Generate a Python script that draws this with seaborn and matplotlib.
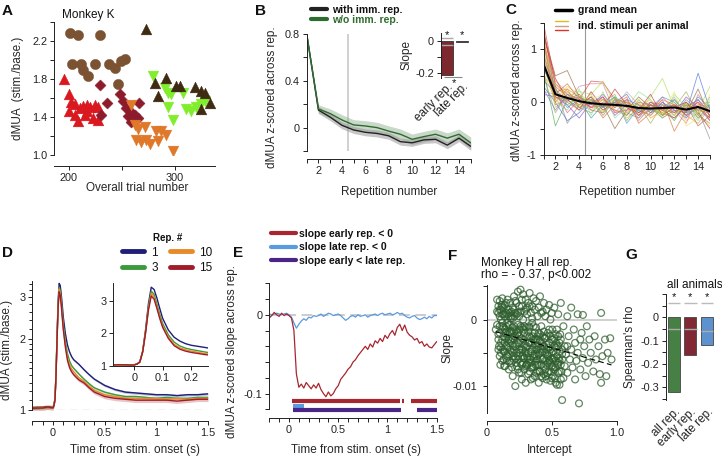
import numpy as np
import pandas as pd
import seaborn as sns
import matplotlib.pyplot as plt
from matplotlib.lines import Line2D
from matplotlib.ticker import NullFormatter

# ---------------- data ----------------
# A: dMUA per trial, one group per stimulus (Monkey K)
a_circ_x = [201.3, 208.5, 229.7, 203.2, 211.7, 213.2, 218.0, 224.9, 237.9, 243.2, 249.5, 252.7, 246.4]
a_circ_y = [2.28, 2.26, 2.26, 1.96, 1.96, 1.90, 1.83, 1.96, 1.96, 1.92, 1.99, 2.01, 1.75]
a_dtri_x = [272.6, 281.1, 292.1, 300.9, 304.7, 318.9, 325.2, 328.4, 333.1, 325.2, 284.2]
a_dtri_y = [2.33, 1.76, 1.81, 1.73, 1.73, 1.72, 1.67, 1.65, 1.55, 1.48, 1.62]
a_green_x = [279.5, 290.5, 293.7, 296.8, 307.9, 293.7, 298.4, 311.0, 315.8, 320.5, 325.2, 328.4]
a_green_y = [1.83, 1.71, 1.65, 1.64, 1.65, 1.51, 1.37, 1.48, 1.46, 1.51, 1.54, 1.57]
a_red_x = [195.9, 200.0, 202.2, 205.4, 210.1, 213.2, 217.0, 219.6, 224.3, 227.4, 200.6, 208.5, 217.0,
           222.7, 227.4, 214.8, 205.4]
a_red_y = [1.80, 1.64, 1.56, 1.54, 1.50, 1.52, 1.53, 1.51, 1.53, 1.51, 1.46, 1.36, 1.46, 1.39, 1.37,
           1.42, 1.42]
a_dia_x = [229.0, 236.0, 230.6, 248.0, 251.1, 254.3, 257.4, 262.1, 265.3, 266.2, 259.0, 255.8]
a_dia_y = [1.74, 1.55, 1.42, 1.64, 1.57, 1.50, 1.46, 1.42, 1.39, 1.55, 1.35, 1.41]
a_orng_x = [259.0, 262.1, 265.3, 271.6, 263.7, 268.5, 273.2, 276.3, 282.6, 287.4, 292.1, 284.2, 298.4]
a_orng_y = [1.53, 1.32, 1.27, 1.30, 1.16, 1.14, 1.16, 1.12, 1.25, 1.25, 1.21, 1.15, 1.04]

# B: mean z-scored dMUA per repetition
rep = [1, 2, 3, 4, 5, 6, 7, 8, 9, 10, 11, 12, 13, 14, 15]
b_with = [0.80, 0.15, 0.09, 0.02, -0.02, -0.04, -0.05, -0.07, -0.12, -0.13, -0.105, -0.10, -0.15, -0.09, -0.16]
b_with_sem = [0.01, 0.03, 0.03, 0.03, 0.03, 0.03, 0.03, 0.03, 0.03, 0.03, 0.03, 0.03, 0.03, 0.03, 0.035]
b_wo = [0.80, 0.16, 0.12, 0.066, 0.023, 0.014, 0.0, -0.03, -0.057, -0.10, -0.077, -0.057, -0.09, -0.057, -0.13]
b_wo_sem = [0.01, 0.035, 0.04, 0.045, 0.045, 0.045, 0.045, 0.045, 0.045, 0.045, 0.045, 0.045, 0.045, 0.045, 0.05]
binset_labels = ["early rep.", "late rep."]
binset_slope = [-0.21, -0.008]

# C: individual stimuli and grand mean
c_mean = [0.72, 0.15, 0.08, 0.02, -0.02, -0.04, -0.05, -0.07, -0.11, -0.12, -0.11, -0.10, -0.14, -0.09, -0.17]
c_lines = [
    [1.50, 0.35, 0.15, 0.05, 0.40, 0.38, 0.05, -0.10, -0.25, -0.05, -0.20, -0.30, -0.10, 0.05, -0.25],
    [1.20, 0.20, 0.25, 0.10, -0.05, 0.10, -0.15, -0.20, 0.00, -0.30, -0.15, -0.05, -0.25, -0.40, -0.10],
    [1.00, 0.05, 0.30, 0.15, 0.00, -0.20, 0.10, -0.30, -0.10, 0.05, -0.25, 0.00, -0.35, -0.20, -0.45],
    [0.90, -0.10, 0.10, 0.20, 0.15, 0.40, -0.05, 0.00, -0.20, 0.10, 0.45, -0.10, -0.05, -0.15, 0.30],
    [0.60, -0.45, 0.05, -0.10, 0.10, -0.15, 0.00, -0.25, 0.05, -0.20, -0.10, -0.35, 0.00, -0.30, -0.05],
    [0.30, 0.00, -0.35, -0.20, 0.05, -0.10, 0.00, 0.15, -0.20, -0.05, -0.10, 0.05, -0.20, 0.55, -0.15],
    [0.15, 0.10, -0.05, -0.30, 0.00, 0.10, -0.25, -0.05, -0.15, -0.25, 0.00, -0.20, 0.10, -0.10, -0.35],
    [1.30, 0.50, 0.60, 0.10, -0.10, -0.05, -0.50, -0.15, 0.10, -0.10, -0.30, -0.15, -0.20, 0.25, -0.30],
    [0.80, 0.30, -0.40, -0.05, 0.10, -0.25, 0.05, -0.20, -0.30, 0.00, -0.05, -0.25, 0.05, -0.15, -0.70],
    [1.10, 0.40, 0.20, 0.00, -0.15, 0.05, -0.10, 0.20, -0.05, -0.15, -0.20, 0.10, -0.30, -0.05, 0.00],
    [0.70, 0.25, 0.00, 0.30, 0.35, 0.35, -0.20, 0.05, -0.35, -0.10, 0.10, -0.15, -0.40, 0.15, -0.20],
    [0.50, -0.20, 0.15, -0.10, -0.20, 0.00, 0.15, -0.35, -0.05, -0.40, -0.05, -0.10, 0.20, -0.25, 0.10],
    [1.40, 0.15, 0.35, 0.05, 0.05, -0.30, -0.05, 0.10, -0.40, -0.20, 0.05, -0.55, -0.15, 0.00, -0.35],
    [0.95, 0.05, -0.15, 0.25, -0.25, 0.20, -0.30, -0.10, 0.20, 0.05, -0.30, 0.15, -0.10, -0.35, 0.05],
    [1.25, 0.45, 0.05, -0.15, 0.20, -0.10, 0.25, -0.05, -0.15, 0.15, -0.25, -0.10, 0.00, -0.20, -0.50],
    [0.40, 0.20, -0.10, 0.05, -0.30, -0.05, 0.10, -0.40, -0.10, -0.15, 0.10, 0.00, -0.25, 0.10, -0.10],
    [0.85, -0.05, 0.20, -0.05, 0.05, 0.15, -0.15, -0.20, 0.05, -0.30, -0.20, 0.20, -0.45, -0.30, 0.15],
    [0.65, 0.10, 0.05, 0.15, -0.15, -0.20, 0.05, 0.00, -0.25, 0.00, -0.15, -0.30, -0.05, -0.45, -0.25],
    [1.35, 0.30, 0.10, -0.05, 0.10, -0.15, 0.00, -0.10, -0.20, -0.05, -0.15, -0.05, -0.25, -0.10, -0.30],
    [0.55, 0.05, 0.20, 0.00, -0.10, 0.05, -0.05, -0.15, -0.10, -0.25, -0.05, -0.20, -0.10, 0.00, -0.15],
    [1.05, 0.25, -0.05, 0.10, 0.00, -0.10, 0.10, -0.05, -0.15, -0.10, -0.25, 0.05, -0.20, -0.15, -0.05],
    [0.25, -0.15, 0.15, 0.00, -0.05, 0.15, -0.10, 0.05, -0.05, -0.20, 0.00, -0.15, -0.30, 0.05, -0.20],
    [0.75, 0.10, 0.00, -0.15, 0.05, -0.05, -0.15, -0.25, 0.00, -0.05, -0.10, -0.20, 0.00, -0.25, -0.40],
    [1.15, -0.05, 0.05, 0.10, -0.10, 0.00, -0.05, 0.05, -0.25, -0.15, 0.05, -0.05, -0.15, -0.05, -0.10],
    [0.45, 0.35, 0.10, -0.05, 0.15, -0.20, 0.05, -0.10, -0.05, -0.10, -0.20, -0.25, -0.05, -0.20, 0.00],
    [0.90, 0.20, -0.20, 0.05, -0.10, 0.10, -0.20, -0.15, -0.10, 0.00, -0.10, -0.05, -0.20, 0.00, -0.25],
    [0.20, 0.15, 0.05, 0.10, -0.05, -0.10, 0.00, -0.05, -0.30, -0.15, -0.05, -0.10, -0.10, -0.30, -0.15],
    [1.20, 0.00, 0.25, -0.10, 0.00, 0.05, -0.10, 0.00, -0.10, -0.05, -0.15, -0.20, -0.05, -0.15, -0.20],
]
c_colors = ['#e03030', '#f08a30', '#e0d030', '#a0e040', '#40a040', '#4060e0', '#8040c0', '#8b5a2b',
            '#808080', '#c8a080', '#e07090', '#a0a040', '#d06020', '#80e080', '#c02020', '#3090c0',
            '#f0e060', '#a06040', '#d04040', '#e0b040', '#60c060', '#7070e0', '#b08060', '#f07050',
            '#c0d040', '#e05080', '#a0a0a0', '#d08030']

# D: dMUA time courses per repetition
d_time = [-0.2, -0.15, -0.1, -0.05, 0.0, 0.01, 0.02, 0.03, 0.04, 0.05, 0.06, 0.07, 0.08, 0.09, 0.1,
          0.12, 0.14, 0.16, 0.18, 0.2, 0.25, 0.3, 0.35, 0.4, 0.5, 0.6, 0.7, 0.8, 0.9, 1.0, 1.1, 1.2,
          1.3, 1.4, 1.5]
d_rep1 = [1.02, 1.02, 1.03, 1.03, 1.03, 1.05, 1.12, 1.45, 2.10, 2.90, 3.42, 3.35, 3.08, 2.76, 2.46,
          2.10, 1.88, 1.76, 1.68, 1.63, 1.56, 1.48, 1.41, 1.35, 1.27, 1.22, 1.19, 1.18, 1.17, 1.16,
          1.16, 1.15, 1.16, 1.16, 1.17]
d_rep3 = [1.02, 1.03, 1.02, 1.03, 1.03, 1.05, 1.12, 1.44, 2.05, 2.80, 3.30, 3.20, 2.90, 2.58, 2.30,
          1.95, 1.73, 1.61, 1.54, 1.50, 1.42, 1.35, 1.29, 1.24, 1.19, 1.16, 1.14, 1.14, 1.13, 1.12,
          1.13, 1.12, 1.12, 1.13, 1.13]
d_rep10 = [1.03, 1.02, 1.03, 1.02, 1.03, 1.05, 1.11, 1.43, 2.02, 2.75, 3.24, 3.12, 2.82, 2.50, 2.22,
           1.88, 1.66, 1.55, 1.49, 1.45, 1.37, 1.32, 1.26, 1.21, 1.16, 1.14, 1.12, 1.12, 1.12, 1.12,
           1.11, 1.12, 1.11, 1.12, 1.12]
d_rep15 = [1.02, 1.02, 1.02, 1.03, 1.02, 1.05, 1.11, 1.42, 2.00, 2.70, 3.15, 3.05, 2.76, 2.45, 2.18,
           1.84, 1.62, 1.51, 1.45, 1.41, 1.34, 1.30, 1.24, 1.19, 1.14, 1.12, 1.11, 1.10, 1.10, 1.10,
           1.10, 1.09, 1.10, 1.11, 1.11]
d_sem = [0.015, 0.015, 0.015, 0.025]
d_labels = ['1', '3', '10', '15']
d_colors = ['#1f1f7a', '#3b9a3b', '#e8892a', '#a01c2a']

# E: slope across repetitions over time
e_time = [-0.2, -0.175, -0.15, -0.125, -0.1, -0.075, -0.05, -0.025, 0.0, 0.025, 0.05, 0.075, 0.1,
          0.125, 0.15, 0.175, 0.2, 0.225, 0.25, 0.275, 0.3, 0.325, 0.35, 0.375, 0.4, 0.425, 0.45,
          0.475, 0.5, 0.525, 0.55, 0.575, 0.6, 0.625, 0.65, 0.675, 0.7, 0.725, 0.75, 0.775, 0.8,
          0.825, 0.85, 0.875, 0.9, 0.925, 0.95, 0.975, 1.0, 1.025, 1.05, 1.075, 1.1, 1.125, 1.15,
          1.175, 1.2, 1.225, 1.25, 1.275, 1.3, 1.325, 1.35, 1.375, 1.4, 1.425, 1.45, 1.475, 1.5]
e_early = [-0.004, -0.001, 0.003, 0.000, -0.002, 0.002, -0.001, 0.001, -0.001,
           -0.004, -0.020, -0.075, -0.092, -0.088, -0.093, -0.086, -0.090, -0.094, -0.089,
           -0.093, -0.087, -0.095, -0.100, -0.104, -0.098, -0.103, -0.100, -0.094, -0.090,
           -0.082, -0.078, -0.074, -0.069, -0.066, -0.060, -0.057, -0.052, -0.048, -0.044,
           -0.040, -0.044, -0.037, -0.041, -0.033, -0.036, -0.030, -0.034, -0.026, -0.030,
           -0.024, -0.020, -0.026, -0.016, -0.012, -0.020, -0.013, -0.022, -0.026, -0.028,
           -0.032, -0.030, -0.036, -0.034, -0.040, -0.037, -0.041, -0.042, -0.038, -0.034]
e_late = [0.001, 0.000, 0.001, 0.002, 0.001, 0.000, 0.001, 0.002, 0.000,
          -0.003, -0.010, -0.017, -0.012, -0.008, -0.005, -0.007, -0.003, -0.004, -0.001,
          -0.002, -0.001, 0.001, -0.002, 0.000, 0.002, 0.001, -0.001, 0.000, 0.001,
          -0.001, -0.004, -0.007, -0.005, -0.002, -0.001, -0.003, 0.000, -0.002, -0.001,
          0.000, -0.003, -0.001, 0.000, 0.001, -0.001, 0.001, 0.002, 0.000, 0.001,
          0.002, 0.000, 0.001, 0.003, 0.001, 0.002, -0.001, -0.003, -0.004, -0.002,
          -0.001, -0.004, -0.006, -0.005, -0.003, -0.005, -0.002, -0.004, -0.001, -0.001]
e_sig_early = [(0.03, 1.13), (1.15, 1.17), (1.24, 1.5)]
e_sig_late = [(0.04, 0.15)]
e_sig_diff = [(0.04, 1.14), (1.3, 1.5)]

# F: slope vs intercept, Monkey H
f_int = [0.07, 0.08, 0.08, 0.08, 0.09, 0.09, 0.09, 0.10, 0.10, 0.10, 0.10,
         0.11, 0.11, 0.12, 0.12, 0.12, 0.13, 0.13, 0.13, 0.14, 0.14, 0.14, 0.15, 0.15, 0.15,
         0.16, 0.16, 0.16, 0.17, 0.17, 0.17, 0.18, 0.18, 0.18, 0.19, 0.19, 0.19, 0.20, 0.20, 0.20, 0.20,
         0.21, 0.21, 0.21, 0.22, 0.22, 0.22, 0.23, 0.23, 0.23, 0.24, 0.24, 0.24, 0.25, 0.25, 0.25,
         0.26, 0.26, 0.26, 0.27, 0.27, 0.27, 0.28, 0.28, 0.28, 0.29, 0.29, 0.29, 0.30, 0.30, 0.30,
         0.31, 0.31, 0.31, 0.32, 0.32, 0.32, 0.33, 0.33, 0.33, 0.34, 0.34, 0.34, 0.35, 0.35, 0.35,
         0.36, 0.36, 0.36, 0.37, 0.37, 0.37, 0.38, 0.38, 0.38, 0.39, 0.39, 0.39, 0.40, 0.40, 0.40,
         0.41, 0.41, 0.42, 0.42, 0.43, 0.43, 0.43, 0.44, 0.44, 0.45, 0.45, 0.45,
         0.46, 0.46, 0.47, 0.47, 0.48, 0.48, 0.48, 0.49, 0.49, 0.50, 0.50, 0.50,
         0.51, 0.51, 0.52, 0.52, 0.53, 0.53, 0.54, 0.54, 0.55, 0.55,
         0.56, 0.56, 0.57, 0.57, 0.58, 0.58, 0.59, 0.59, 0.60, 0.60,
         0.61, 0.62, 0.62, 0.63, 0.64, 0.65, 0.65, 0.66, 0.67, 0.68, 0.68, 0.69, 0.70, 0.70,
         0.71, 0.72, 0.72, 0.73, 0.74, 0.74, 0.75, 0.76, 0.77, 0.78, 0.79, 0.80,
         0.82, 0.83, 0.84, 0.86, 0.87, 0.88, 0.88, 0.89, 0.91, 0.92, 0.93, 0.95, 0.96,
         0.10, 0.11, 0.11, 0.12, 0.12, 0.13, 0.13, 0.14, 0.14, 0.15, 0.15, 0.16, 0.16, 0.17, 0.17,
         0.18, 0.18, 0.19, 0.19, 0.20, 0.20, 0.21, 0.21, 0.22, 0.22, 0.23, 0.23, 0.24, 0.24, 0.25,
         0.25, 0.26, 0.26, 0.27, 0.27, 0.28, 0.28, 0.29, 0.29, 0.30, 0.30, 0.31, 0.31, 0.32, 0.32,
         0.33, 0.33, 0.34, 0.34, 0.35, 0.35, 0.36, 0.36, 0.37, 0.37, 0.38, 0.38, 0.39, 0.39, 0.40,
         0.40, 0.41, 0.41, 0.42, 0.42, 0.43, 0.43, 0.44, 0.44, 0.45, 0.46, 0.46, 0.47, 0.48, 0.48,
         0.49, 0.49, 0.50, 0.51, 0.52, 0.52, 0.53, 0.54, 0.55, 0.55, 0.56, 0.57, 0.58, 0.46, 0.50,
         0.53, 0.56, 0.09, 0.12, 0.15, 0.18, 0.21, 0.24, 0.27, 0.30, 0.33]
f_slope = [-0.0015, 0.0030, 0.0012, -0.0008, -0.0030, 0.0020, -0.0045, 0.0005, -0.0020, 0.0028, -0.0055,
           0.0015, -0.0035, 0.0032, -0.0010, -0.0062, 0.0008, -0.0025, -0.0048, 0.0022, -0.0015, -0.0070,
           0.0010, -0.0040, -0.0028,
           0.0030, -0.0005, -0.0055, 0.0015, -0.0035, -0.0075, 0.0025, -0.0020, -0.0045, 0.0005, -0.0065,
           -0.0030, 0.0018, -0.0012, -0.0085, -0.0050,
           0.0035, -0.0025, -0.0060, 0.0010, -0.0040, -0.0100, 0.0025, -0.0015, -0.0070, 0.0042, -0.0035,
           -0.0055, 0.0005, -0.0080, -0.0025,
           0.0045, -0.0010, -0.0065, 0.0020, -0.0045, -0.0090, 0.0038, -0.0030, -0.0058, 0.0012, -0.0075,
           -0.0020, 0.0030, -0.0050, -0.0095,
           0.0008, -0.0040, -0.0068, 0.0025, -0.0018, -0.0082, 0.0040, -0.0035, -0.0060, 0.0010, -0.0048,
           -0.0090, 0.0020, -0.0025, -0.0072,
           0.0032, -0.0055, -0.0010, -0.0038, -0.0085, 0.0015, 0.0028, -0.0062, -0.0030, 0.0005, -0.0078,
           -0.0045, 0.0018, -0.0020, -0.0095,
           0.0035, -0.0050, -0.0010, -0.0068, 0.0012, -0.0040, -0.0088, 0.0025, -0.0058, -0.0028, -0.0075,
           0.0005,
           0.0015, -0.0045, -0.0080, -0.0020, 0.0022, -0.0062, -0.0035, -0.0092, 0.0000, -0.0050, -0.0070,
           0.0010,
           -0.0030, -0.0085, 0.0018, -0.0058, -0.0042, -0.0072, -0.0015, -0.0098, 0.0008, -0.0065,
           -0.0048, -0.0078, 0.0025, -0.0030, -0.0060, -0.0121, -0.0088, -0.0010, -0.0070, -0.0040,
           -0.0052, 0.0005, -0.0080, -0.0025, -0.0060, 0.0018, -0.0045, -0.0072, -0.0015, -0.0090, -0.0035,
           -0.0062, 0.0008, -0.0050,
           -0.0126, -0.0030, -0.0075, -0.0020, 0.0007, -0.0058, -0.0040, -0.0085, -0.0010, -0.0065,
           -0.0030, -0.0050,
           -0.0078, -0.0025, -0.0060, -0.0040, -0.0082, 0.0010, -0.0095, -0.0055, -0.0030, -0.0085,
           -0.0050, -0.0028, -0.0060,
           -0.0010, -0.0050, 0.0000, -0.0030, 0.0020, -0.0060, -0.0012, -0.0035, 0.0005, -0.0058, 0.0025,
           -0.0022, -0.0042, -0.0008, 0.0005,
           -0.0062, -0.0008, -0.0018, -0.0048, -0.0028, 0.0002, -0.0045, -0.0010, -0.0025, -0.0058,
           -0.0038, 0.0008, -0.0020, -0.0075, -0.0045,
           0.0020, -0.0032, -0.0050, -0.0012, -0.0068, -0.0045, 0.0000, -0.0038, -0.0058, -0.0012,
           -0.0070, -0.0025, -0.0055, -0.0035, -0.0065,
           -0.0012, -0.0078, -0.0028, -0.0065, -0.0045, -0.0005, -0.0030, -0.0072, -0.0052, -0.0020,
           -0.0045, -0.0080, -0.0025, -0.0060, -0.0040,
           -0.0068, -0.0022, -0.0078, -0.0045, 0.0010, -0.0060, -0.0025, -0.0040, -0.0082, -0.0050,
           -0.0068, -0.0025, -0.0055, -0.0078, -0.0015,
           -0.0045, -0.0065, -0.0030, -0.0060, -0.0040, -0.0075, -0.0022, -0.0055, -0.0080, -0.0040,
           -0.0062, -0.0090, -0.0045, -0.0090, -0.0088,
           -0.0095, -0.0098, 0.0010, 0.0008, -0.0010, 0.0010, 0.0015, 0.0010, 0.0030, 0.0015, 0.0020]
f_int_core = [0.09, 0.10, 0.11, 0.12, 0.13, 0.14, 0.15, 0.16, 0.17, 0.18, 0.19, 0.20, 0.21, 0.22, 0.23,
              0.24, 0.25, 0.26, 0.27, 0.28, 0.29, 0.30, 0.31, 0.32, 0.33, 0.34, 0.35, 0.36, 0.37, 0.38,
              0.39, 0.40, 0.41, 0.42, 0.43, 0.44, 0.45, 0.46, 0.47, 0.48, 0.49, 0.50, 0.51, 0.52, 0.53,
              0.54, 0.55, 0.56, 0.57, 0.58,
              0.095, 0.105, 0.115, 0.125, 0.135, 0.145, 0.155, 0.165, 0.175, 0.185, 0.195, 0.205, 0.215,
              0.225, 0.235, 0.245, 0.255, 0.265, 0.275, 0.285, 0.295, 0.305, 0.315, 0.325, 0.335, 0.345,
              0.355, 0.365, 0.375, 0.385, 0.395, 0.405, 0.415, 0.425, 0.435, 0.445, 0.455, 0.465, 0.475,
              0.485, 0.495, 0.505, 0.515, 0.525, 0.535, 0.545, 0.555, 0.565, 0.575, 0.62]
f_slope_core = [-0.0022, 0.0015, -0.0042, -0.0005, 0.0018, -0.0048, -0.0018, 0.0008, -0.0052, -0.0032,
                0.0012, -0.0038, -0.0018, 0.0028, -0.0050, -0.0008, -0.0035, 0.0012, -0.0028, -0.0065,
                -0.0010, -0.0042, 0.0018, -0.0050, -0.0025, -0.0072, 0.0002, -0.0058, -0.0030, -0.0012,
                -0.0068, -0.0052, -0.0032, -0.0085, -0.0048, -0.0018, -0.0062, -0.0038, -0.0065, -0.0050,
                -0.0025, -0.0058, -0.0072, -0.0028, -0.0062, -0.0040, -0.0025, -0.0035, -0.0068, -0.0052,
                -0.0040, -0.0068, 0.0022, -0.0045, -0.0070, -0.0020, -0.0062, -0.0030, -0.0018, 0.0002,
                -0.0072, -0.0055, 0.0005, -0.0065, -0.0022, -0.0060, -0.0015, -0.0080, -0.0055, -0.0015,
                -0.0048, -0.0068, -0.0058, -0.0010, -0.0060, -0.0035, -0.0088, -0.0042, -0.0068, -0.0055,
                -0.0030, -0.0078, -0.0058, -0.0035, -0.0070, -0.0028, -0.0085, -0.0052, -0.0042, -0.0062,
                -0.0078, -0.0015, -0.0048, -0.0088, -0.0035, -0.0068, -0.0058, -0.0022, -0.0078, -0.0040]

# G: Spearman's rho, all animals
g_labels = ["all rep.", "early rep.", "late rep."]
g_rho = [-0.32, -0.16, -0.12]
g_null = [-0.05, -0.05, -0.06]
g_colors = ['#3e8a3a', '#8e1b2b', '#4a90e2']

# ---------------- style ----------------
sns.set_style("ticks")
plt.rcParams['font.family'] = ['Liberation Sans', 'DejaVu Sans']
plt.rcParams.update({
    'axes.linewidth': 0.7, 'axes.edgecolor': '#222222',
    'xtick.labelsize': 7.8, 'ytick.labelsize': 7.8, 'axes.labelsize': 8.5,
    'xtick.major.size': 3, 'ytick.major.size': 3, 'xtick.minor.size': 3, 'ytick.minor.size': 3,
    'xtick.major.width': 0.7, 'ytick.major.width': 0.7, 'xtick.minor.width': 0.7,
    'ytick.minor.width': 0.7, 'xtick.major.pad': 2, 'ytick.major.pad': 2,
    'xtick.color': '#222222', 'ytick.color': '#222222', 'text.color': '#111111',
})

W, H = 722, 457
fig = plt.figure(figsize=(7.22, 4.57), dpi=100)


def add_ax(box):
    l, t, r, b = box
    return fig.add_axes([l / W, 1 - b / H, (r - l) / W, (b - t) / H])


def ftext(x, y, s, **kw):
    fig.text(x / W, 1 - y / H, s, **kw)


def place_labels(ax, box, xl=None, xl_y=None, xl_x=None, yl=None, yl_x=None, yl_y=None, size=8.5):
    l, t, r, b = box
    if xl:
        ax.set_xlabel(xl, fontsize=size)
        xc = xl_x if xl_x is not None else (l + r) / 2
        ax.xaxis.set_label_coords((xc - l) / (r - l), (b - (xl_y - 6)) / (b - t))
    if yl:
        ax.set_ylabel(yl, fontsize=size)
        yc = yl_y if yl_y is not None else (t + b) / 2
        ax.yaxis.set_label_coords((yl_x + 6 - l) / (r - l), (b - yc) / (b - t))


def fig_legend(ax, handles, labels, x, y, **kw):
    return ax.legend(handles, labels, loc='upper left', bbox_to_anchor=(x / W, 1 - y / H),
                     bbox_transform=fig.transFigure, frameon=False, borderpad=0,
                     borderaxespad=0, **kw)


BOX_A = (54, 22, 215, 155)
BOX_B = (306.7, 34, 470.7, 151)
BOX_BI = (441, 33, 470, 78)
BOX_C = (543.5, 23, 710, 155)
BOX_D = (32.3, 281, 208, 410)
BOX_DI = (113.3, 283, 208.3, 365.7)
BOX_E = (269.3, 283.3, 436.7, 409.3)
BOX_F = (486.7, 285, 616.7, 412.7)
BOX_G = (666, 294, 716, 400)

# ---------------- A ----------------
axA = add_ax(BOX_A)
groups = [(a_circ_x, a_circ_y, 'o', '#7b5332', 55), (a_red_x, a_red_y, '^', '#d9181f', 60),
          (a_dia_x, a_dia_y, 'D', '#8c1c2c', 32), (a_orng_x, a_orng_y, 'v', '#e0782a', 60),
          (a_green_x, a_green_y, 'v', '#80ee2a', 60), (a_dtri_x, a_dtri_y, '^', '#3f2a12', 60)]
for gx, gy, mk, col, sz in groups:
    sns.scatterplot(x=gx, y=gy, marker=mk, color=col, s=sz, edgecolor=col, linewidth=0.3, ax=axA)
axA.set_xlim(186, 338)
axA.set_ylim(1.0, 2.4)
axA.set_yticks([1.0, 1.2, 1.4, 1.6, 1.8, 2.0, 2.2, 2.4])
axA.set_yticklabels(['1.0', '', '1.4', '', '1.8', '', '2.2', ''])
axA.set_xticks([200, 250, 300])
axA.set_xticklabels(['200', '', '300'])
sns.despine(ax=axA)
axA.spines['bottom'].set_position(('outward', 8))
place_labels(axA, BOX_A, xl='Overall trial number', xl_y=188, xl_x=137,
             yl='dMUA  (stim./base.)', yl_x=18.5, yl_y=88)
ftext(62, 15, 'Monkey K', fontsize=8.5, va='center', ha='left')

# ---------------- B ----------------
axB = add_ax(BOX_B)
axB.axvline(4.5, color='#c8c8c8', lw=1.2, zorder=0)
axB.fill_between(rep, np.array(b_wo) - b_wo_sem, np.array(b_wo) + b_wo_sem, color='#88aa88',
                 alpha=0.45, lw=0)
axB.fill_between(rep, np.array(b_with) - b_with_sem, np.array(b_with) + b_with_sem, color='#999999',
                 alpha=0.55, lw=0)
sns.lineplot(x=rep, y=b_with, color='#222222', lw=1.0, ax=axB, label='with imm. rep.')
sns.lineplot(x=rep, y=b_wo, color='#2e6b2e', lw=1.0, ax=axB, label='w/o imm. rep.')
axB.set_xlim(1, 15)
axB.set_ylim(-0.2, 0.8)
axB.set_xticks(rep)
axB.set_xticklabels([str(r) if r % 2 == 0 else '' for r in rep])
axB.set_yticks([-0.2, 0, 0.2, 0.4, 0.6, 0.8])
axB.set_yticklabels(['', '0', '', '0.4', '', '0.8'])
sns.despine(ax=axB)
axB.spines['bottom'].set_position(('outward', 6))
place_labels(axB, BOX_B, xl='Repetition number', xl_y=192,
             yl='dMUA z-scored across rep.', yl_x=272, yl_y=97)
hB = [Line2D([], [], color='#222222', lw=3), Line2D([], [], color='#2e6b2e', lw=3)]
legB = fig_legend(axB, hB, ['with imm. rep.', 'w/o imm. rep.'], 311, 5, handlelength=1.5,
                  handletextpad=0.5, labelspacing=0.0, prop=dict(weight='bold', size=7.5))
legB.get_texts()[1].set_color('#2e6b2e')

# B inset
axBi = add_ax(BOX_BI)
axBi.patch.set_alpha(0)
sns.barplot(x=binset_labels, y=binset_slope, hue=binset_labels, palette=['#8b1a22', '#666666'],
            legend=False, width=0.8, edgecolor='#333333', linewidth=0.6, ax=axBi)
axBi.set_xlim(-0.4, 1.5)
axBi.set_ylim(-0.23, 0.048)
axBi.set_yticks([-0.2, -0.1, 0])
axBi.set_yticklabels(['-0.2', '', '0'])
axBi.tick_params(axis='x', length=0)
axBi.set_xticks([0, 1])
axBi.set_xticklabels(binset_labels, rotation=45, ha='right', rotation_mode='anchor', fontsize=8.5)
axBi.hlines([0.02], -0.4, 0.4, color='#aaaaaa', lw=1)
axBi.hlines([-0.025], -0.4, 0.4, color='#aaaaaa', lw=1)
axBi.hlines([-0.222], -0.2, 0.95, color='#888888', lw=0.8, clip_on=False)
for xs, ys in [(0, 0.038), (1, 0.038), (0.45, -0.262)]:
    axBi.text(xs, ys, '*', ha='center', va='center', fontsize=8, clip_on=False)
sns.despine(ax=axBi, bottom=True)
axBi.set_ylabel('Slope', fontsize=8.5)
axBi.yaxis.set_label_coords((406.5 + 6 - 441) / 29, 0.5)

# ---------------- C ----------------
axC = add_ax(BOX_C)
axC.axvline(4.5, color='#999999', lw=0.8, zorder=0)
c_df = pd.DataFrame({'rep': rep * len(c_lines),
                     'z': [v for line in c_lines for v in line],
                     'stim': [i for i in range(len(c_lines)) for _ in rep]})
sns.lineplot(data=c_df, x='rep', y='z', hue='stim', palette=c_colors, legend=False, lw=0.6,
             alpha=0.65, ax=axC)
sns.lineplot(x=rep, y=c_mean, color='k', lw=1.5, ax=axC)
axC.set_xlim(1, 15)
axC.set_ylim(-1, 1.5)
axC.set_xticks(rep)
axC.set_xticklabels([str(r) if r % 2 == 0 else '' for r in rep])
axC.set_yticks([-1, -0.5, 0, 0.5, 1, 1.5])
axC.set_yticklabels(['-1', '', '0', '', '1', ''])
sns.despine(ax=axC)
place_labels(axC, BOX_C, xl='Repetition number', xl_y=192,
             yl='dMUA z-scored across rep.', yl_x=517, yl_y=90)
fig.add_artist(Line2D([555 / W, 572 / W], [1 - 10 / H, 1 - 10 / H], color='k', lw=2.5))
for yy, cc in [(21, '#d4c020'), (25.5, '#c8a080'), (30, '#e03030')]:
    fig.add_artist(Line2D([555 / W, 568 / W], [1 - yy / H, 1 - yy / H], color=cc, lw=1))
ftext(578, 10, 'grand mean', fontsize=7.5, weight='bold', va='center')
ftext(578, 26, 'ind. stimuli per animal', fontsize=7.5, weight='bold', va='center')

# ---------------- D ----------------
axD = add_ax(BOX_D)
axD.axhline(1.0, color='#aaaaaa', lw=0.9, ls=(0, (6, 4)), zorder=0)
d_reps = [d_rep1, d_rep3, d_rep10, d_rep15]
for vals, sem, lab, col in zip(d_reps, d_sem, d_labels, d_colors):
    v = np.array(vals)
    axD.fill_between(d_time, v - sem, v + sem, color=col, alpha=0.25, lw=0)
    sns.lineplot(x=d_time, y=vals, color=col, lw=1.0, ax=axD, label=lab)
axD.set_yscale('log')
axD.set_xlim(-0.2, 1.5)
axD.set_ylim(1.0, 3.5)
axD.set_yticks([1, 2, 3])
axD.set_yticklabels(['1', '2', '3'])
axD.set_yticks([1.1, 1.2, 1.3, 1.4, 1.5, 1.6, 1.7, 1.8, 1.9, 2.2, 2.4, 2.6, 2.8, 3.2, 3.4], minor=True)
axD.yaxis.set_minor_formatter(NullFormatter())
axD.tick_params(axis='y', which='minor', length=2)
d_xt = [-0.2, -0.1, 0, 0.1, 0.2, 0.3, 0.4, 0.5, 0.6, 0.7, 0.8, 0.9, 1.0, 1.1, 1.2, 1.3, 1.4, 1.5]
axD.set_xticks(d_xt)
axD.set_xticklabels(['', '', '0', '', '', '', '', '0.5', '', '', '', '', '1', '', '', '', '', '1.5'])
sns.despine(ax=axD)
axD.spines['bottom'].set_position(('outward', 8))
place_labels(axD, BOX_D, xl='Time from stim. onset (s)', xl_y=450, xl_x=135,
             yl='dMUA (stim./base.)', yl_x=7.5, yl_y=350)
hD = [Line2D([], [], color=c, lw=3.5) for c in d_colors]
legD = fig_legend(axD, hD, d_labels, 122, 233, ncol=2, title='Rep. #', handlelength=1.9,
                  handletextpad=0.6, columnspacing=1.0, labelspacing=0.3,
                  prop=dict(size=8.5), title_fontproperties=dict(weight='bold', size=7))

# D inset
axDi = add_ax(BOX_DI)
axDi.patch.set_alpha(0)
for vals, col in zip(d_reps, d_colors):
    sns.lineplot(x=d_time, y=vals, color=col, lw=1.0, ax=axDi)
axDi.set_xlim(-0.073, 0.26)
axDi.set_ylim(1.0, 3.55)
axDi.set_xticks([0, 0.1, 0.2])
axDi.set_xticklabels(['0', '0.1', '0.2'])
axDi.set_yticks([1, 2, 3])
sns.despine(ax=axDi)

# ---------------- E ----------------
axE = add_ax(BOX_E)
axE.axhline(0, color='#c8c8c8', lw=1.3, ls=(0, (6, 3)), zorder=0)
sns.lineplot(x=e_time, y=e_late, color='#5a9be0', lw=0.9, ax=axE)
sns.lineplot(x=e_time, y=e_early, color='#a8262f', lw=0.9, ax=axE)
for segs, yv, col in [(e_sig_early, -0.110, '#a8262f'), (e_sig_late, -0.1155, '#5a9be0'),
                      (e_sig_diff, -0.121, '#4b2585')]:
    for x0, x1 in segs:
        axE.plot([x0, x1], [yv, yv], color=col, lw=3, solid_capstyle='butt', clip_on=False)
axE.set_xlim(-0.2, 1.5)
axE.set_ylim(-0.12, 0.04)
axE.set_xticks(d_xt)
axE.set_xticklabels(['', '', '0', '', '', '', '', '0.5', '', '', '', '', '1', '', '', '', '', '1.5'])
axE.set_yticks([-0.12, -0.1, -0.08, -0.06, -0.04, -0.02, 0, 0.02, 0.04])
axE.set_yticklabels(['', '-0.1', '', '', '', '', '0', '', ''])
sns.despine(ax=axE)
axE.spines['bottom'].set_position(('outward', 6))
place_labels(axE, BOX_E, xl='Time from stim. onset (s)', xl_y=450, xl_x=356,
             yl='dMUA z-scored slope across rep.', yl_x=232, yl_y=352)
hE = [Line2D([], [], color=c, lw=3) for c in ['#a8262f', '#5a9be0', '#4b2585']]
fig_legend(axE, hE, ['slope early rep. < 0', 'slope late rep. < 0', 'slope early < late rep.'],
           271, 229, handlelength=2.4, handletextpad=0.3, labelspacing=0.32,
           prop=dict(weight='bold', size=7.5))

# ---------------- F ----------------
axF = add_ax(BOX_F)
axF.axhline(0, color='#c8c8c8', lw=1.2, zorder=0)
f_x = f_int + f_int_core
f_y = f_slope + f_slope_core
sns.scatterplot(x=f_x, y=f_y, marker='o', s=24, color='#2e5e2e', facecolors='none',
                edgecolor='#2e5e2e', linewidth=0.9, alpha=0.75, ax=axF)
sns.regplot(x=f_x, y=f_y, scatter=False, ci=None, ax=axF,
            line_kws=dict(color='k', lw=0.8, ls=(0, (5, 3))))
axF.set_xlim(0, 1.0)
axF.set_ylim(-0.014, 0.0052)
axF.set_xticks([0, 0.5, 1.0])
axF.set_xticklabels(['0', '0.5', '1.0'])
axF.set_yticks([-0.01, -0.005, 0, 0.005])
axF.set_yticklabels(['-0.01', '', '0', ''])
axF.tick_params(axis='y', pad=4)
sns.despine(ax=axF)
axF.spines['bottom'].set_position(('outward', 6))
place_labels(axF, BOX_F, xl='Intercept', xl_y=450, xl_x=550, yl='Slope', yl_x=447, yl_y=348)
ftext(481, 269, 'Monkey H all rep.\nrho = - 0.37, p<0.002', fontsize=8.5, va='center', ha='left',
      linespacing=1.1)

# ---------------- G ----------------
axG = add_ax(BOX_G)
axG.patch.set_alpha(0)
sns.barplot(x=g_labels, y=g_rho, hue=g_labels, palette=g_colors, legend=False, width=0.73,
            edgecolor='#444444', linewidth=0.6, ax=axG)
axG.set_xlim(-0.485, 2.55)
axG.set_ylim(-0.355, 0.1)
axG.set_yticks([-0.35, -0.3, -0.25, -0.2, -0.15, -0.1, -0.05, 0, 0.05, 0.1])
axG.set_yticklabels(['', '-0.3', '', '-0.2', '', '-0.1', '', '0', '', ''])
axG.set_xticks([0, 1, 2])
axG.set_xticklabels(g_labels, rotation=45, ha='right', rotation_mode='anchor', fontsize=8.5)
axG.tick_params(axis='x', length=0, pad=4)
for i, nv in enumerate(g_null):
    axG.hlines([0.06], i - 0.37, i + 0.37, color='#bbbbbb', lw=1)
    axG.hlines([nv], i - 0.37, i + 0.37, color='#aaaaaa', lw=1)
    axG.text(i, 0.088, '*', ha='center', va='center', fontsize=8)
sns.despine(ax=axG, bottom=True)
axG.set_ylabel("Spearman's rho", fontsize=8.5)
axG.yaxis.set_label_coords((630 + 6 - 666) / 50, 0.5)
ftext(695, 285, 'all animals', fontsize=8.5, ha='center', va='center')

# ---------------- panel letters ----------------
for lx, ly, s in [(2, 11, 'A'), (255, 11, 'B'), (505, 10, 'C'), (2, 253, 'D'), (233, 253, 'E'),
                  (448, 256, 'F'), (625, 255, 'G')]:
    ftext(lx, ly, s, fontsize=11, weight='bold', va='center', ha='left')

fig.savefig('out.png', dpi=100)
